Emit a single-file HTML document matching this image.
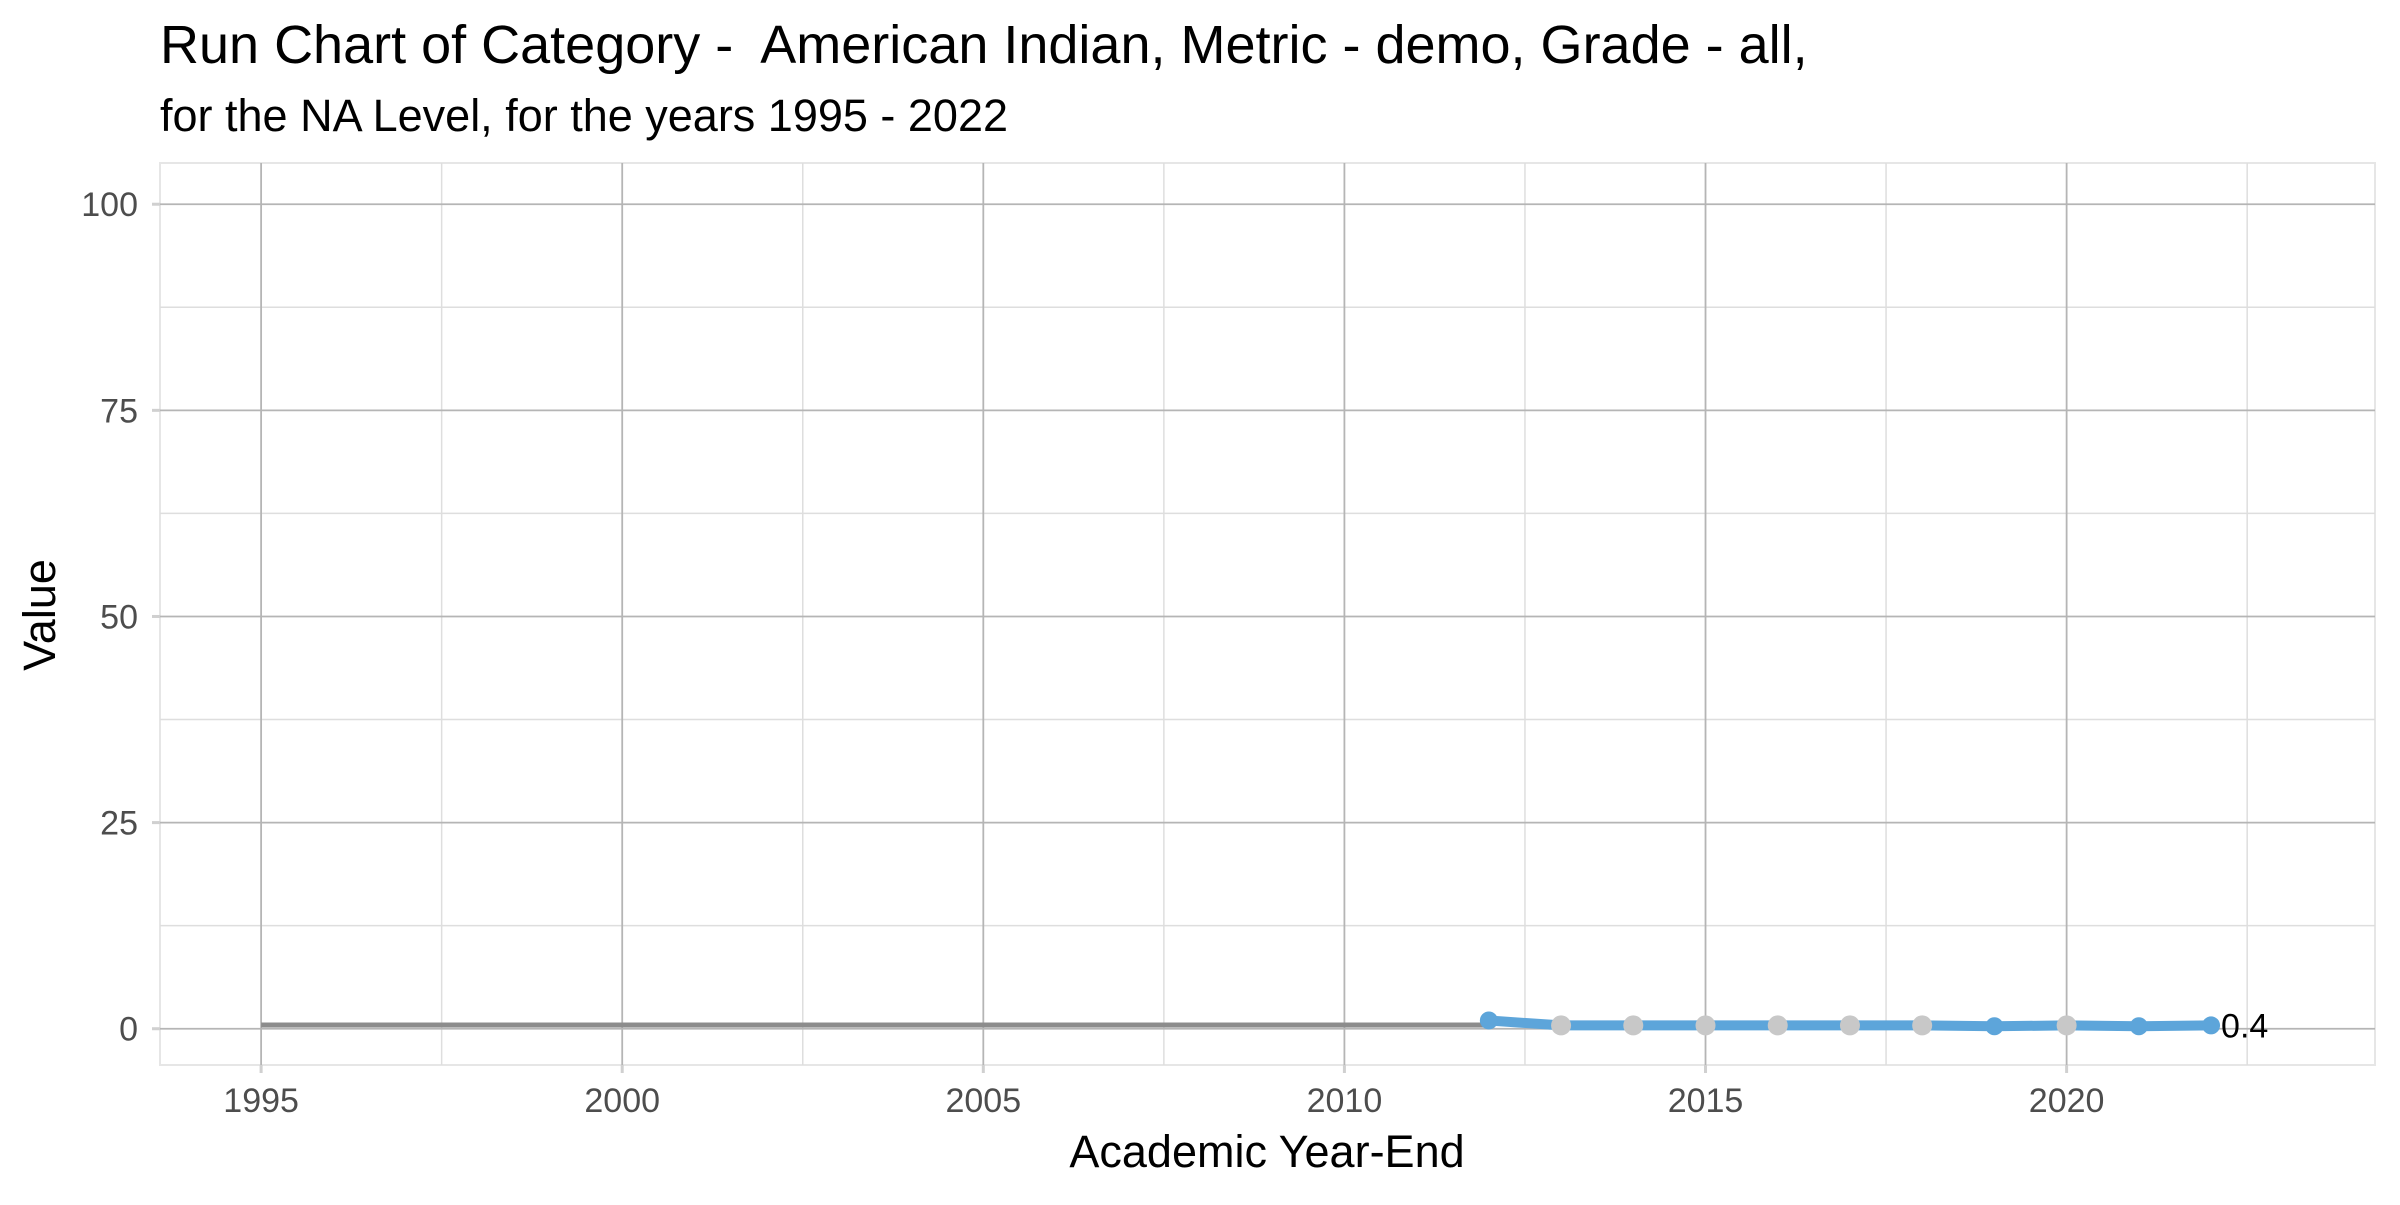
<!DOCTYPE html>
<html><head><meta charset="utf-8">
<style>
body{margin:0;background:#fff;width:2400px;height:1200px;overflow:hidden;font-family:"Liberation Sans",Arial,sans-serif;}
</style></head>
<body>
<svg id="chart" width="2400" height="1200" xmlns="http://www.w3.org/2000/svg" font-family="Liberation Sans, Arial, sans-serif">
<text x="160" y="63" font-size="54" fill="#000" xml:space="preserve">Run Chart of Category -  American Indian, Metric - demo, Grade - all,</text>
<text x="160" y="131" font-size="45" fill="#000">for the NA Level, for the years 1995 - 2022</text>
<text transform="translate(55,615) rotate(-90)" text-anchor="middle" font-size="45" fill="#000">Value</text>
<text x="1267" y="1167" text-anchor="middle" font-size="45" fill="#000">Academic Year-End</text>
<g id="grid"></g>
<g id="marks"></g>
</svg>
<script>
const years = [2012,2013,2014,2015,2016,2017,2018,2019,2020,2021,2022];
const values = [1.0,0.4,0.4,0.4,0.4,0.4,0.4,0.3,0.4,0.3,0.4];
const pointColors = ["blue","grey","grey","grey","grey","grey","grey","blue","grey","blue","blue"];
const baselineStart = 1995;
const baselineValue = 0.45;
const lastLabel = "0.4";
const xTicks = [1995,2000,2005,2010,2015,2020];
const yTicks = [0,25,50,75,100];

const L=160,R=2375,T=163,B=1065;
const xMin=1993.6,xMax=2024.27,yMin=-4.4,yMax=105;
const X=v=>L+(v-xMin)/(xMax-xMin)*(R-L);
const Y=v=>B-(v-yMin)/(yMax-yMin)*(B-T);
const NS="http://www.w3.org/2000/svg";
function mk(tag,attrs,parent){const e=document.createElementNS(NS,tag);for(const k in attrs)e.setAttribute(k,attrs[k]);parent.appendChild(e);return e;}
const grid=document.getElementById('grid'),marks=document.getElementById('marks');

const bg=mk('rect',{x:L,y:T,width:R-L,height:B-T,fill:'#fff',stroke:'#e6e6e6','stroke-width':2},grid);


for(let i=0;i<xTicks.length;i++){const v=xTicks[i]+2.5;if(v<xMax){const l=mk('line',{x1:X(v),x2:X(v),y1:T,y2:B,stroke:'#dedede','stroke-width':1.5},grid);

}}
for(let i=0;i<yTicks.length-1;i++){const v=yTicks[i]+12.5;const l=mk('line',{x1:L,x2:R,y1:Y(v),y2:Y(v),stroke:'#dedede','stroke-width':1.5},grid);

}
xTicks.forEach(v=>{
const l=mk('line',{x1:X(v),x2:X(v),y1:T,y2:B,stroke:'#b5b5b5','stroke-width':1.8},grid);


const tk=mk('line',{x1:X(v),x2:X(v),y1:B,y2:B+8,stroke:'#d0d0d0','stroke-width':3},grid);


const t=mk('text',{x:X(v),y:B+47,'text-anchor':'middle','font-size':34,fill:'#4d4d4d'},grid);t.textContent=v;


});
yTicks.forEach(v=>{
const l=mk('line',{x1:L,x2:R,y1:Y(v),y2:Y(v),stroke:'#b5b5b5','stroke-width':1.8},grid);


const tk=mk('line',{x1:L-8,x2:L,y1:Y(v),y2:Y(v),stroke:'#d0d0d0','stroke-width':3},grid);


const t=mk('text',{x:L-22,y:Y(v)+12,'text-anchor':'end','font-size':34,fill:'#4d4d4d'},grid);t.textContent=v;


});
const bl=mk('line',{x1:X(baselineStart),x2:X(years[0]),y1:Y(baselineValue),y2:Y(baselineValue),stroke:'#8c8c8c','stroke-width':5},marks);


const pl=mk('polyline',{points:years.map((y,i)=>X(y)+','+Y(values[i])).join(' '),fill:'none',stroke:'#5da5da','stroke-width':10,'stroke-linejoin':'round'},marks);


years.forEach((y,i)=>{
const c=mk('circle',{cx:X(y),cy:Y(values[i]),r:pointColors[i]==='blue'?9:10,fill:pointColors[i]==='blue'?'#5da5da':'#c8c8c8'},marks);


});
const lt=mk('text',{x:X(years[years.length-1])+10,y:Y(values[values.length-1])+12,'font-size':34,fill:'#000'},marks);lt.textContent=lastLabel;


</script>
</body></html>
